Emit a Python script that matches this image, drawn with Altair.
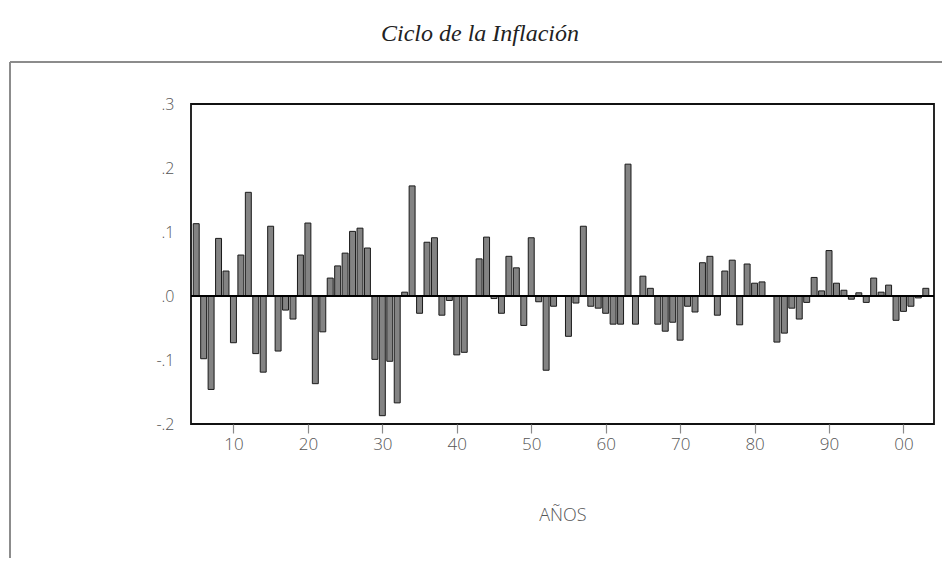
import altair as alt
import pandas as pd

years = list(range(1905, 2004))
values = [
    0.113, -0.098, -0.146, 0.090, 0.039, -0.073, 0.064, 0.162, -0.090, -0.119,   # 1905-1914
    0.109, -0.086, -0.022, -0.036, 0.064, 0.114, -0.137, -0.056, 0.028, 0.047,   # 1915-1924
    0.067, 0.101, 0.106, 0.075, -0.099, -0.187, -0.102, -0.167, 0.006, 0.172,    # 1925-1934
    -0.027, 0.084, 0.091, -0.030, -0.007, -0.092, -0.088, 0.000, 0.058, 0.092,   # 1935-1944
    -0.004, -0.027, 0.062, 0.044, -0.046, 0.091, -0.009, -0.116, -0.016, 0.000,  # 1945-1954
    -0.063, -0.011, 0.109, -0.016, -0.019, -0.027, -0.044, -0.044, 0.206, -0.044, # 1955-1964
    0.031, 0.012, -0.044, -0.055, -0.041, -0.069, -0.016, -0.025, 0.052, 0.062,  # 1965-1974
    -0.030, 0.039, 0.056, -0.045, 0.050, 0.020, 0.022, 0.000, -0.072, -0.058,    # 1975-1984
    -0.019, -0.036, -0.010, 0.029, 0.008, 0.071, 0.020, 0.009, -0.005, 0.005,    # 1985-1994
    -0.010, 0.028, 0.006, 0.017, -0.038, -0.024, -0.016, -0.003, 0.012,          # 1995-2003
]
x_ticks = [1910, 1920, 1930, 1940, 1950, 1960, 1970, 1980, 1990, 2000]
y_ticks = [-0.2, -0.1, 0.0, 0.1, 0.2, 0.3]
title_text = "Ciclo de la Inflación"
x_title = "AÑOS"

df = pd.DataFrame({"year": years, "value": values})
df["x0"] = df["year"] - 0.4
df["x1"] = df["year"] + 0.4

FONT = "Open Sans"
W, H = 743, 320

xscale = alt.Scale(domain=[1904.3, 2004.1], nice=False, zero=False)
yscale = alt.Scale(domain=[-0.2, 0.3], nice=False)

bars = alt.Chart(df).mark_bar(
    color="#838383", stroke="#1a1a1a", strokeWidth=1
).encode(
    x=alt.X("x0:Q", scale=xscale,
            axis=alt.Axis(values=x_ticks, title=x_title,
                          labelExpr="slice(toString(datum.value), 2)",
                          grid=False, domain=False, tickColor="#8a8a8a",
                          tickSize=9, tickWidth=1.2, labelPadding=3,
                          labelFont=FONT, labelFontSize=17, labelFontWeight=300,
                          labelColor="#555555", titleFont=FONT, titleFontSize=18,
                          titleFontWeight=300, titleColor="#555555",
                          titlePadding=54)),
    x2="x1:Q",
    y=alt.Y("value:Q", scale=yscale,
            axis=alt.Axis(values=y_ticks, title=None,
                          labelExpr="(datum.value < 0 ? '-' : '') + replace(format(abs(datum.value), '.1f'), '0.', '.')",
                          grid=False, domain=False, ticks=False,
                          labelPadding=17, labelFont=FONT, labelFontSize=16,
                          labelFontWeight=300, labelColor="#555555")),
    y2=alt.datum(0),
)

one = pd.DataFrame({"k": [0]})

zero_line = alt.Chart(one).mark_rule(color="black", strokeWidth=2.2).encode(
    y=alt.datum(0, scale=yscale), x=alt.value(0), x2=alt.value(W)
)

frame_top = alt.Chart(one).mark_rule(color="#8c8c8c", strokeWidth=2).encode(
    x=alt.value(-181), x2=alt.value(760), y=alt.value(-42)
)
frame_left = alt.Chart(one).mark_rule(color="#8c8c8c", strokeWidth=2).encode(
    x=alt.value(-181), y=alt.value(-42), y2=alt.value(470)
)

title = alt.Chart(one).mark_text(
    font="Liberation Serif", fontStyle="italic", fontSize=24, color="#222222",
    align="center", baseline="alphabetic"
).encode(
    x=alt.value(480 - 191), y=alt.value(41 - 104), text=alt.value(title_text)
)

chart = alt.layer(bars, zero_line, frame_top, frame_left, title).properties(
    width=W, height=H,
    autosize=alt.AutoSizeParams(type="none"),
    padding={"left": 183, "top": 96, "right": 8, "bottom": 134},
).configure_view(stroke="#111111", strokeWidth=1.8)

chart.save("out.html", embed_options={"renderer": "svg", "actions": False})
